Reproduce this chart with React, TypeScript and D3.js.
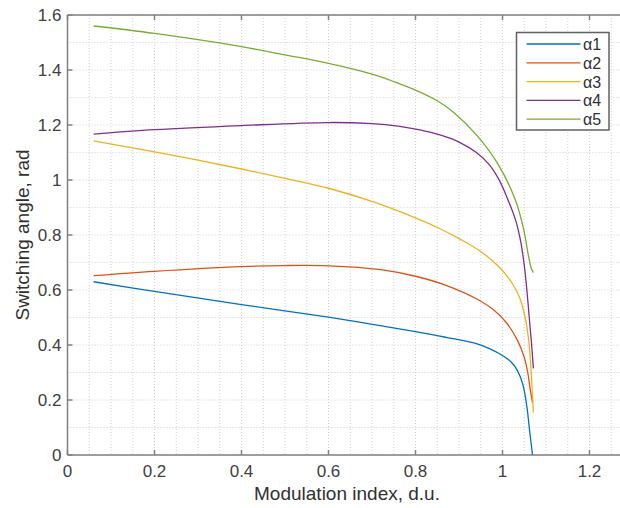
import React from "react";
import * as d3 from "d3";

const seriesNames = ["α1", "α2", "α3", "α4", "α5"];
const seriesColors = ["#0072BD", "#D95319", "#EDB120", "#7E2F8E", "#77AC30"];

const alpha1X = [0.06, 0.2, 0.4, 0.6, 0.8, 0.87, 0.94, 0.97, 1.0, 1.02, 1.035, 1.047, 1.056, 1.063, 1.069];
const alpha1Y = [0.63, 0.595, 0.547, 0.501, 0.449, 0.428, 0.405, 0.387, 0.362, 0.338, 0.305, 0.255, 0.176, 0.079, 0.0];

const alpha2X = [0.06, 0.2, 0.4, 0.5, 0.6, 0.72, 0.8, 0.87, 0.94, 0.98, 1.01, 1.035, 1.05, 1.058, 1.064, 1.069];
const alpha2Y = [0.652, 0.668, 0.685, 0.689, 0.688, 0.674, 0.65, 0.617, 0.568, 0.527, 0.479, 0.415, 0.355, 0.3, 0.235, 0.19];

const alpha3X = [0.06, 0.2, 0.3, 0.4, 0.5, 0.6, 0.7, 0.8, 0.86, 0.9, 0.95, 0.99, 1.02, 1.04, 1.052, 1.06, 1.066, 1.071];
const alpha3Y = [1.142, 1.102, 1.072, 1.04, 1.006, 0.97, 0.922, 0.862, 0.82, 0.787, 0.74, 0.687, 0.63, 0.57, 0.5, 0.42, 0.3, 0.155];

const alpha4X = [0.06, 0.2, 0.4, 0.6, 0.7, 0.76, 0.81, 0.86, 0.9, 0.94, 0.97, 0.994, 1.012, 1.03, 1.042, 1.05, 1.056, 1.062, 1.067, 1.071];
const alpha4Y = [1.167, 1.183, 1.198, 1.209, 1.205, 1.196, 1.182, 1.162, 1.138, 1.1, 1.055, 0.995, 0.93, 0.855, 0.775, 0.69, 0.6, 0.49, 0.4, 0.315];

const alpha5X = [0.06, 0.2, 0.4, 0.5, 0.6, 0.7, 0.75, 0.8, 0.85, 0.89, 0.944, 0.99, 1.029, 1.048, 1.059, 1.066, 1.071];
const alpha5Y = [1.56, 1.533, 1.485, 1.455, 1.424, 1.385, 1.358, 1.327, 1.288, 1.243, 1.157, 1.057, 0.93, 0.825, 0.73, 0.68, 0.663];

const xTicks = [0, 0.2, 0.4, 0.6, 0.8, 1, 1.2];
const yTicks = [0, 0.2, 0.4, 0.6, 0.8, 1, 1.2, 1.4, 1.6];
const xTickLabels = ["0", "0.2", "0.4", "0.6", "0.8", "1", "1.2"];
const yTickLabels = ["0", "0.2", "0.4", "0.6", "0.8", "1", "1.2", "1.4", "1.6"];

const xLabel = "Modulation index, d.u.";
const yLabel = "Switching angle, rad";

const W = 620;
const H = 508;
const left = 67.5;
const top = 15;
const bottom = 455;
const xMax = 1.3;
const pxPerUnit = 435;
const right = left + xMax * pxPerUnit;

export default function App() {
  const x = d3.scaleLinear().domain([0, xMax]).range([left, right]);
  const y = d3.scaleLinear().domain([0, 1.6]).range([bottom, top]);

  const xsAll = [alpha1X, alpha2X, alpha3X, alpha4X, alpha5X];
  const ysAll = [alpha1Y, alpha2Y, alpha3Y, alpha4Y, alpha5Y];

  const line = d3
    .line<[number, number]>()
    .x((d) => x(d[0]))
    .y((d) => y(d[1]))
    .curve(d3.curveCatmullRom.alpha(0.5));

  const xMinor = d3.range(0, xMax + 1e-9, 0.05);
  const yMinor = d3.range(0, 1.6 + 1e-9, 0.1);

  const font = "'Liberation Sans', Arial, Helvetica, sans-serif";
  const axisColor = "#808080";
  const textColor = "#404040";

  const legX = 516.5;
  const legY = 32.5;
  const legW = 92.5;
  const legH = 97.5;
  const rowH = 18.8;

  return (
    <svg
      width={W}
      height={H}
      style={{ position: "absolute", left: 0, top: 0, background: "#fff" }}
      fontFamily={font}
    >
      <rect x={0} y={0} width={W} height={H} fill="#fff" />
      <g>
        {xMinor.map((v, i) => (
          <line
            key={"xm" + i}
            x1={x(v)}
            x2={x(v)}
            y1={top}
            y2={bottom}
            stroke="#d0d0d0"
            strokeWidth={1}
            strokeDasharray="1,2"
          />
        ))}
        {yMinor.map((v, i) => (
          <line
            key={"ym" + i}
            x1={left}
            x2={right}
            y1={y(v)}
            y2={y(v)}
            stroke="#d0d0d0"
            strokeWidth={1}
            strokeDasharray="1,2"
          />
        ))}
      </g>
      {xsAll.map((xs, i) => {
        const pts = xs.map((v, j) => [v, ysAll[i][j]] as [number, number]);
        return (
          <path
            key={"s" + i}
            d={line(pts) || ""}
            fill="none"
            stroke={seriesColors[i]}
            strokeWidth={1.3}
          />
        );
      })}
      <line x1={left} x2={right} y1={bottom} y2={bottom} stroke={axisColor} strokeWidth={1.5} />
      <line x1={left} x2={right} y1={top} y2={top} stroke={axisColor} strokeWidth={1.5} />
      <line x1={left} x2={left} y1={top} y2={bottom} stroke={axisColor} strokeWidth={1.5} />
      <line x1={right} x2={right} y1={top} y2={bottom} stroke={axisColor} strokeWidth={1.5} />
      {xTicks.map((v, i) => (
        <g key={"xt" + i}>
          <line x1={x(v)} x2={x(v)} y1={bottom} y2={bottom - 5} stroke={axisColor} strokeWidth={1.5} />
          <line x1={x(v)} x2={x(v)} y1={top} y2={top + 5} stroke={axisColor} strokeWidth={1.5} />
          <text x={x(v)} y={bottom + 22} textAnchor="middle" fontSize={17} fill={textColor}>
            {xTickLabels[i]}
          </text>
        </g>
      ))}
      {yTicks.map((v, i) => (
        <g key={"yt" + i}>
          <line x1={left} x2={left + 5} y1={y(v)} y2={y(v)} stroke={axisColor} strokeWidth={1.5} />
          <line x1={right} x2={right - 5} y1={y(v)} y2={y(v)} stroke={axisColor} strokeWidth={1.5} />
          <text x={left - 6} y={y(v) + 6} textAnchor="end" fontSize={17} fill={textColor}>
            {yTickLabels[i]}
          </text>
        </g>
      ))}
      <text x={347} y={500} textAnchor="middle" fontSize={19} fill="#303030">
        {xLabel}
      </text>
      <text
        transform={`translate(29, ${(top + bottom) / 2}) rotate(-90)`}
        textAnchor="middle"
        fontSize={19}
        fill="#303030"
      >
        {yLabel}
      </text>
      <rect x={legX} y={legY} width={legW} height={legH} fill="#fff" stroke="#606060" strokeWidth={1.5} />
      {seriesNames.map((n, i) => {
        const ry = legY + 11.5 + i * rowH;
        return (
          <g key={"lg" + i}>
            <line x1={legX + 10} x2={legX + 64} y1={ry} y2={ry} stroke={seriesColors[i]} strokeWidth={1.3} />
            <text x={legX + 66.5} y={ry + 6} fontSize={16} fill="#303030">
              {n}
            </text>
          </g>
        );
      })}
    </svg>
  );
}
